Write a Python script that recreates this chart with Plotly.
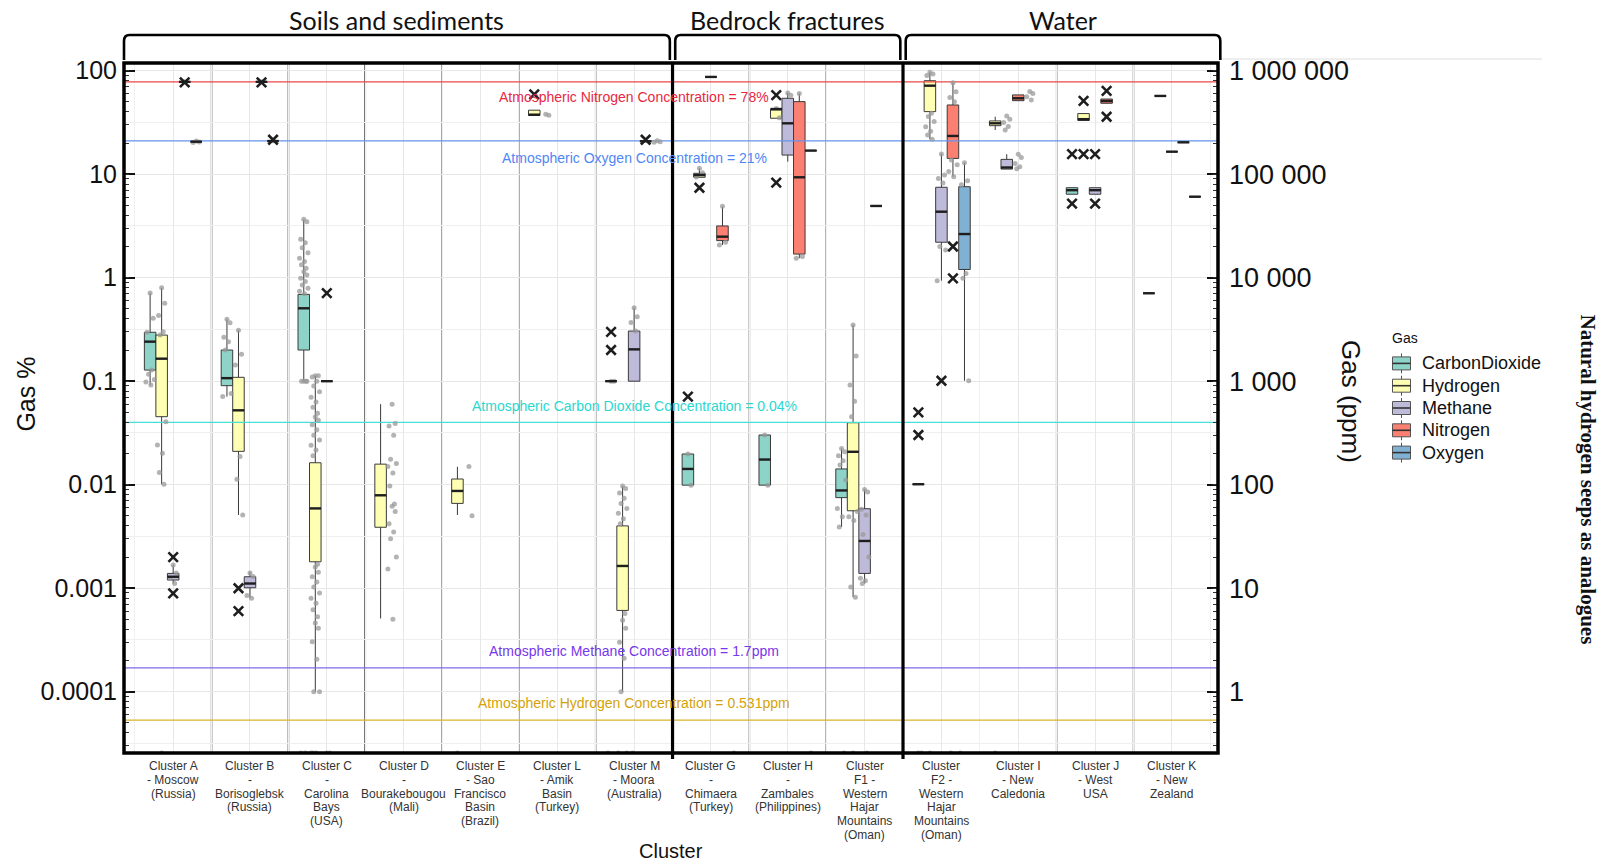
import math
import plotly.graph_objects as go

# ------------------------------------------------------------------ data
CLUSTER_LABELS = [
    "Cluster A\n- Moscow\n(Russia)",
    "Cluster B\n-\nBorisoglebsk\n(Russia)",
    "Cluster C\n-\nCarolina\nBays\n(USA)",
    "Cluster D\n-\nBourakebougou\n(Mali)",
    "Cluster E\n- Sao\nFrancisco\nBasin\n(Brazil)",
    "Cluster L\n- Amik\nBasin\n(Turkey)",
    "Cluster M\n- Moora\n(Australia)",
    "Cluster G\n-\nChimaera\n(Turkey)",
    "Cluster H\n-\nZambales\n(Philippines)",
    "Cluster\nF1 -\nWestern\nHajar\nMountains\n(Oman)",
    "Cluster\nF2 -\nWestern\nHajar\nMountains\n(Oman)",
    "Cluster I\n- New\nCaledonia",
    "Cluster J\n- West\nUSA",
    "Cluster K\n- New\nZealand",
]
SETTINGS = ["Soils and sediments", "Bedrock fractures", "Water"]
SETTING_SIZES = [7, 3, 4]

GASES = ["CarbonDioxide", "Hydrogen", "Methane", "Nitrogen", "Oxygen"]

# box statistics in gas % : (q1, median, q3, lower whisker, upper whisker)
co2_box = [
    (0.128, 0.241, 0.297, 0.092, 0.71), (0.0905, 0.107, 0.2, 0.071, 0.396),
    (0.2, 0.506, 0.69, 0.1, 3.66), None, None, None,
    (0.1, 0.1, 0.1, 0.1, 0.1), (0.0099, 0.0142, 0.0198, 0.0099, 0.0198),
    (0.0099, 0.0175, 0.0302, 0.0099, 0.0302), (0.0075, 0.0088, 0.0142, 0.0039, 0.0224),
    (0.0101, 0.0101, 0.0101, 0.0101, 0.0101), None,
    (6.4, 7.0, 7.4, 6.4, 7.4), (0.707, 0.707, 0.707, 0.707, 0.707),
]
h2_box = [
    (0.0454, 0.165, 0.279, 0.0101, 0.80), (0.021, 0.0523, 0.109, 0.0051, 0.31),
    (0.0018, 0.0059, 0.0163, 0.0001, 0.113), (0.00388, 0.0079, 0.0158, 0.00051, 0.06),
    (0.0066, 0.0087, 0.01135, 0.0051, 0.0149), (37.0, 37.5, 41.5, 37.0, 41.5),
    (0.00061, 0.00164, 0.004, 0.0001, 0.0097), (9.33, 9.8, 10.2, 9.33, 11.4),
    (34.7, 42.6, 42.6, 34.7, 42.6), (0.0056, 0.0208, 0.0397, 0.00082, 0.349),
    (40.2, 71.6, 80.0, 21.7, 96.4), (29.4, 31.0, 32.7, 26.7, 35.9),
    (33.0, 34.0, 38.5, 33.0, 38.5), (57.0, 57.0, 57.0, 57.0, 57.0),
]
ch4_box = [
    (0.0012, 0.00129, 0.00139, 0.00111, 0.00168), (0.00101, 0.00111, 0.00129, 0.0008, 0.00144),
    (0.1, 0.1, 0.1, 0.1, 0.1), None, None, None,
    (0.1, 0.203, 0.305, 0.1, 0.513), (87.0, 87.0, 87.0, 87.0, 87.0),
    (15.3, 31.0, 54.1, 13.2, 61.3), (0.00139, 0.00286, 0.00586, 0.00111, 0.009),
    (2.2, 4.34, 7.47, 0.935, 15.7), (11.2, 11.6, 13.9, 11.2, 15.6),
    (6.4, 7.0, 7.4, 6.4, 7.4), (16.5, 16.5, 16.5, 16.5, 16.5),
]
n2_box = [
    (78.0, 78.0, 78.0, 78.0, 78.0), (78.0, 78.0, 78.0, 78.0, 78.0),
    None, None, None, None, None,
    (2.28, 2.49, 3.16, 2.07, 4.85), (1.69, 9.33, 50.2, 1.54, 60.5),
    (4.93, 4.93, 4.93, 4.93, 4.93), (14.2, 23.4, 46.6, 9.46, 76.6),
    (51.3, 54.1, 58.3, 51.3, 58.3), (48.4, 50.9, 53.2, 48.4, 53.2),
    (20.3, 20.3, 20.3, 20.3, 20.3),
]
o2_box = [
    (20.6, 20.6, 20.6, 20.6, 20.6), (20.9, 20.9, 20.9, 20.9, 20.9),
    None, None, None, None,
    (20.8, 20.8, 20.8, 20.8, 20.8), None,
    (16.9, 16.9, 16.9, 16.9, 16.9), None,
    (1.2, 2.64, 7.57, 0.101, 12.9), None, None,
    (6.06, 6.06, 6.06, 6.06, 6.06),
]

# outliers beyond the whiskers (gas %)
co2_out = [[], [], [], [], [], [], [0.2, 0.3], [0.071], [], [], [0.05, 0.0302], [], [15.6, 5.2], []]
h2_out = [[], [0.001, 0.0006], [], [], [], [59.0], [], [7.4], [58.0, 8.3], [], [], [], [51.0, 15.6], []]
ch4_out = [[0.002, 0.00089], [], [0.71], [], [], [], [], [], [], [], [0.101], [], [15.6, 5.2], []]
n2_out = [[77.0], [77.0], [], [], [], [], [], [], [], [], [2.0, 0.986], [], [63.7, 35.9], []]
o2_out = [[], [21.5], [], [], [], [], [21.5], [], [], [], [], [], [], []]

# individual samples (gas %); 0 = below detection, drawn on the lower edge
co2_pts = [
    [0.71, 0.405, 0.297, 0.128, 0.117, 0.104, 0.098, 0.092],
    [0.396, 0.367, 0.266, 0.24, 0.2, 0.076, 0.071],
    [3.66, 3.47, 2.35, 2.18, 1.95, 1.74, 1.54, 1.43, 1.33, 1.23, 1.14, 1.06, 0.99,
     0.92, 0.85, 0.79, 0.74, 0.7, 0.1, 0.1, 0.1, 0.1, 0, 0],
    [], [0], [], [0.1, 0.1, 0], [0.0198, 0.0099], [0.0302, 0.0099],
    [0.0224, 0.0208, 0.019, 0.017, 0.0155, 0.0111, 0.0059, 0.0049, 0.0039, 0],
    [0, 0], [0], [], [],
]
h2_pts = [
    [0.8, 0.565, 0.43, 0.3, 0.28, 0.0406, 0.0242, 0.0201, 0.0131, 0.0101, 0],
    [0.31, 0.182, 0.143, 0.0187, 0.0113, 0.0051],
    [0.113, 0.113, 0.11, 0.1, 0.09, 0.079, 0.07, 0.063, 0.056, 0.049, 0.045, 0.042,
     0.038, 0.034, 0.03, 0.027, 0.024, 0.0216, 0.019, 0.0017, 0.0016, 0.00143,
     0.00129, 0.00115, 0.00103, 0.0009, 0.0008, 0.000714, 0.00062, 0.00053,
     0.00046, 0.00041, 0.000304, 0.000206, 0.0001, 0.0001, 0, 0, 0],
    [0.06, 0.039, 0.037, 0.03, 0.0176, 0.016, 0.015, 0.013, 0.0097, 0.0065, 0.0062,
     0.0055, 0.0042, 0.0035, 0.003, 0.002, 0.00153, 0.0005],
    [0.015, 0.005],
    [38.0, 37.0],
    [0.0097, 0.0092, 0.0083, 0.0074, 0.0066, 0.0059, 0.0053, 0.0047, 0.0042,
     0.00057, 0.00049, 0.00041, 0.0003, 0.00021, 0.0001, 0, 0],
    [11.4, 10.3, 9.4],
    [43.0, 35.0],
    [0.349, 0.175, 0.092, 0.064, 0.0454, 0.0055, 0.0049, 0.0045, 0.00103, 0.00082, 0],
    [96.4, 93.0, 90.0, 38.7, 36.0, 32.2, 28.7, 26.0, 23.9, 21.7, 0],
    [36.5, 33.9, 31.5, 28.8, 26.7],
    [], [],
]
ch4_pts = [
    [0.00168, 0.0014, 0.00125, 0.00111],
    [0.0014, 0.0013, 0.00085, 0.0008],
    [0, 0], [], [], [],
    [0.513, 0.42, 0.37, 0.305, 0],
    [], [61.0, 58.0],
    [0.009, 0.0085, 0.0058, 0.0051, 0.0033, 0.002, 0.00125, 0.00118, 0.00111, 0],
    [15.7, 9.8, 9.1, 8.2, 2.0, 1.85, 0.935],
    [15.6, 14.5, 12.7, 11.8, 11.3],
    [], [],
]
n2_pts = [
    [78.0], [78.0], [], [], [], [], [],
    [4.9, 2.2, 2.07],
    [60.0, 1.6, 1.54],
    [],
    [76.6, 62.7, 55.0, 50.0, 13.7, 12.3, 10.6, 9.46, 0],
    [63.0, 60.0, 56.0, 52.0],
    [], [],
]
o2_pts = [
    [20.9, 20.5, 20.2], [21.0], [], [], [], [],
    [21.0, 20.6, 20.3],
    [0], [0], [],
    [12.9, 8.65, 7.9, 1.1, 0.99, 0.101, 0],
    [], [], [],
]

# atmospheric reference concentrations (gas %)
ATM_GAS = ["Nitrogen", "Oxygen", "CarbonDioxide", "Methane", "Hydrogen"]
ATM_VALUE = [78.0, 21.0, 0.04, 0.00017, 0.0000531]
ATM_TEXT = [
    "Atmospheric Nitrogen Concentration = 78%",
    "Atmospheric Oxygen Concentration = 21%",
    "Atmospheric Carbon Dioxide Concentration = 0.04%",
    "Atmospheric Methane Concentration = 1.7ppm",
    "Atmospheric Hydrogen Concentration = 0.531ppm",
]

# ------------------------------------------------------------------ styling
FILL = {"CarbonDioxide": "#8DD3C7", "Hydrogen": "#FFFFB3", "Methane": "#BEBADA",
        "Nitrogen": "#FB8072", "Oxygen": "#80B1D3"}
ATM_LINE = {"Nitrogen": "#ea4848", "Oxygen": "#6293ee", "CarbonDioxide": "#46e0d4",
            "Methane": "#7d6ae8", "Hydrogen": "#d9b52c"}
ATM_FONT = {"Nitrogen": "#e8283f", "Oxygen": "#4f86f5", "CarbonDioxide": "#2bd7cf",
            "Methane": "#7638ea", "Hydrogen": "#d4a208"}
ATM_SHIFT = {"Nitrogen": -15, "Oxygen": -17, "CarbonDioxide": 16, "Methane": 17, "Hydrogen": 17}
# the two lowest reference lines are attached to the overlay axes so those axes get drawn
ATM_AXIS = {"Nitrogen": "y", "Oxygen": "y", "CarbonDioxide": "y", "Methane": "y3", "Hydrogen": "y2"}
ATM_LABEL_X = 6.0

SANS = "Liberation Sans, Arial, sans-serif"
W, H = 1605, 863
PLOT_L, PLOT_R, PLOT_T, PLOT_B = 124, 1218, 63, 753
X_RANGE = [-0.64, 13.60]
Y_RANGE = [-4.592, 2.074]          # log10 of gas %
SLOT = 0.15                        # dodge width of one gas inside a cluster
JITTER = [0.0, 0.04, -0.04, 0.02, -0.02, 0.055, -0.055, 0.01, -0.03, 0.03]


def px(xp):
    return (xp - PLOT_L) / (PLOT_R - PLOT_L)


def py(yp):
    return (PLOT_B - yp) / (PLOT_B - PLOT_T)


def xpaper(xd):
    return (xd - X_RANGE[0]) / (X_RANGE[1] - X_RANGE[0])


def text_at(xp, yp, text, size, family=SANS, angle=0, xanchor="center", color="#111"):
    return dict(x=px(xp), y=py(yp), xref="paper", yref="paper", text=text,
                textangle=angle, xanchor=xanchor, yanchor="middle", showarrow=False,
                font=dict(family=family, size=size, color=color))


boxes = [co2_box, h2_box, ch4_box, n2_box, o2_box]
outs = [co2_out, h2_out, ch4_out, n2_out, o2_out]
pts = [co2_pts, h2_pts, ch4_pts, n2_pts, o2_pts]
n_clusters = len(CLUSTER_LABELS)
floor_value = 10 ** Y_RANGE[0]

# boxes are dodged left-aligned among the gases present in a cluster
box_pos = [[None] * n_clusters for _ in GASES]
for ci in range(n_clusters):
    present = [g for g in range(len(GASES)) if boxes[g][ci] is not None]
    for k, g in enumerate(present):
        box_pos[g][ci] = ci + (k - 2) * SLOT

fig = go.Figure()

# atmospheric reference lines
for gas, val in zip(ATM_GAS, ATM_VALUE):
    fig.add_trace(go.Scatter(x=X_RANGE, y=[val, val], mode="lines", yaxis=ATM_AXIS[gas],
                             line=dict(color=ATM_LINE[gas], width=1.3),
                             hoverinfo="skip", showlegend=False))

# individual samples (jittered around the gas slot)
dx, dy = [], []
for g in range(len(GASES)):
    for ci in range(n_clusters):
        for j, v in enumerate(pts[g][ci]):
            dx.append(ci + (g - 2) * SLOT + JITTER[j % len(JITTER)])
            dy.append(v if v > 0 else floor_value)
fig.add_trace(go.Scatter(x=dx, y=dy, mode="markers",
                         marker=dict(size=5, color="#9a9a9a", opacity=0.75),
                         hoverinfo="skip", showlegend=False))

# boxplots
med_x, med_y = [], []
for g, gas in enumerate(GASES):
    xs, q1, md, q3, lo, hi = [], [], [], [], [], []
    for ci in range(n_clusters):
        b = boxes[g][ci]
        if b is None:
            continue
        xs.append(box_pos[g][ci])
        q1.append(b[0]); md.append(b[1]); q3.append(b[2]); lo.append(b[3]); hi.append(b[4])
        med_x += [box_pos[g][ci] - SLOT / 2, box_pos[g][ci] + SLOT / 2, None]
        med_y += [b[1], b[1], None]
    fig.add_trace(go.Box(x=xs, q1=q1, median=md, q3=q3, lowerfence=lo, upperfence=hi,
                         width=SLOT, fillcolor=FILL[gas], whiskerwidth=0,
                         line=dict(color="#3a3a3a", width=1), boxpoints=False,
                         hoverinfo="skip", showlegend=False, name=gas))
fig.add_trace(go.Scatter(x=med_x, y=med_y, mode="lines",
                         line=dict(color="#1e1e1e", width=2.4),
                         hoverinfo="skip", showlegend=False))

# outliers
ox, oy = [], []
for g in range(len(GASES)):
    for ci in range(n_clusters):
        for v in outs[g][ci]:
            ox.append(box_pos[g][ci])
            oy.append(v)
fig.add_trace(go.Scatter(x=ox, y=oy, mode="markers",
                         marker=dict(symbol="x-thin", size=9.5, color="#1e1e1e",
                                     line=dict(width=2.6, color="#1e1e1e")),
                         hoverinfo="skip", showlegend=False))

# ------------------------------------------------------------------ annotations
ann = []
for gas, val, txt in zip(ATM_GAS, ATM_VALUE, ATM_TEXT):
    ann.append(dict(x=ATM_LABEL_X, y=math.log10(val), xref="x", yref="y", text=txt,
                    showarrow=False, yshift=ATM_SHIFT[gas], xanchor="center", yanchor="middle",
                    font=dict(family=SANS, size=14, color=ATM_FONT[gas])))

for ci, lab in enumerate(CLUSTER_LABELS):
    for k, line in enumerate(lab.split("\n")):
        ann.append(dict(x=ci, y=0, xref="x", yref="paper", text=line, showarrow=False,
                        xanchor="center", yanchor="middle", yshift=-(13 + 13.8 * k),
                        font=dict(family=SANS, size=12, color="#333333")))

ann += [
    text_at(25.6, 394, "Gas %", 25, angle=-90),
    text_at(1351, 401, "Gas (ppm)", 26, angle=90),
    text_at(670.5, 851.5, "Cluster", 20),
    text_at(1588, 479.5, "<b>Natural hydrogen seeps as analogues</b>", 21,
            family="Liberation Serif, Times New Roman, serif", angle=90),
]

shapes = []

# vertical separators between clusters
sep_color = {0: "#777777", 1: "#555555", 2: "#111111", 3: "#888888", 4: "#888888",
             5: "#888888", 7: "#888888", 8: "#888888", 11: "#888888", 12: "#888888"}
setting_edges = []
acc = 0
for n in SETTING_SIZES[:-1]:
    acc += n
    setting_edges.append(acc - 1)
for b in range(n_clusters - 1):
    xb = b + 0.5
    if b in setting_edges:
        shapes.append(dict(type="line", xref="x", yref="paper", x0=xb, x1=xb, y0=py(759), y1=1,
                           line=dict(color="black", width=3.2), layer="above"))
    elif b in sep_color:
        shapes.append(dict(type="line", xref="x", yref="paper", x0=xb, x1=xb, y0=0, y1=1,
                           line=dict(color=sep_color[b], width=1.6), layer="below"))

# panel frame
shapes.append(dict(type="rect", xref="paper", yref="paper", x0=0, x1=1, y0=0, y1=1,
                   line=dict(color="black", width=3.5), layer="above"))
# faint rule extending from the top of the secondary axis
shapes.append(dict(type="line", xref="paper", yref="paper", x0=px(1219), x1=px(1542),
                   y0=py(59), y1=py(59), line=dict(color="#dedede", width=1)))

# setting brackets over the panel
yt, yb = py(35), py(60)
rx, ry = 0.005, 6 / (PLOT_B - PLOT_T)
start = 0
for si, (name, n) in enumerate(zip(SETTINGS, SETTING_SIZES)):
    lo_edge = X_RANGE[0] if si == 0 else start - 0.5 + 0.035
    hi_edge = start + n - 0.5 - 0.035 if si < len(SETTINGS) - 1 else X_RANGE[1] + 0.03
    a, b2 = xpaper(lo_edge), xpaper(hi_edge)
    path = (f"M {a},{yb} L {a},{yt - ry} Q {a},{yt} {a + rx},{yt} "
            f"L {b2 - rx},{yt} Q {b2},{yt} {b2},{yt - ry} L {b2},{yb}")
    shapes.append(dict(type="path", xref="paper", yref="paper", path=path,
                       line=dict(color="black", width=2.6)))
    ann.append(dict(x=(a + b2) / 2, y=py(20.5), xref="paper", yref="paper", text=name,
                    xanchor="center", yanchor="middle", showarrow=False,
                    font=dict(family="Lato, Liberation Sans, sans-serif", size=25, color="#111")))
    start += n

# legend (boxplot keys)
ann.append(text_at(1390, 338, "Gas", 14, xanchor="left"))
for k, gas in enumerate(GASES):
    cy = 363.4 + 22.3 * k
    x0, x1 = 1392.5, 1410.5
    xm = (x0 + x1) / 2
    shapes.append(dict(type="line", xref="paper", yref="paper", x0=px(xm), x1=px(xm),
                       y0=py(cy - 10), y1=py(cy + 10), line=dict(color="#555", width=1)))
    shapes.append(dict(type="rect", xref="paper", yref="paper", x0=px(x0), x1=px(x1),
                       y0=py(cy - 6.5), y1=py(cy + 6.5), fillcolor=FILL[gas],
                       line=dict(color="#555", width=1)))
    shapes.append(dict(type="line", xref="paper", yref="paper", x0=px(x0), x1=px(x1),
                       y0=py(cy), y1=py(cy), line=dict(color="#333", width=1.6)))
    ann.append(text_at(1420, cy, gas, 18, xanchor="left"))

# ------------------------------------------------------------------ axes
tick_vals = [10.0 ** e for e in range(-4, 3)]
tick_pct = [f"{v:g}" for v in tick_vals]
tick_ppm = [f"{int(round(v * 1e4)):,}".replace(",", " ") for v in tick_vals]

fig.update_layout(
    width=W, height=H, autosize=False,
    margin=dict(l=PLOT_L, r=W - PLOT_R, t=PLOT_T, b=H - PLOT_B),
    paper_bgcolor="white", plot_bgcolor="white",
    showlegend=False, boxmode="overlay",
    font=dict(family=SANS, color="#111"),
    xaxis=dict(range=X_RANGE, showticklabels=False, ticks="", zeroline=False,
               tickmode="linear", tick0=0, dtick=1,
               showgrid=True, gridcolor="#e7e7e7", gridwidth=1.2,
               minor=dict(tick0=0.5, dtick=1, showgrid=True, gridcolor="#f0f0f0", gridwidth=1)),
    yaxis=dict(type="log", range=Y_RANGE, tickmode="array", tickvals=tick_vals, ticktext=tick_pct,
               ticks="inside", ticklen=11, tickwidth=1.5, tickcolor="#111", mirror="ticks",
               showline=False, zeroline=False, showgrid=True, gridcolor="#e7e7e7", gridwidth=1.3,
               minor=dict(tickmode="linear", tick0=0, dtick=0.5, showgrid=True,
                          gridcolor="#efefef", gridwidth=1, ticks=""),
               tickfont=dict(family=SANS, size=25, color="#111"), ticklabelstandoff=6),
    yaxis2=dict(type="log", range=Y_RANGE, overlaying="y", anchor="x", side="right",
                tickmode="array", tickvals=tick_vals, ticktext=tick_ppm, ticks="",
                showgrid=False, zeroline=False, showline=False,
                tickfont=dict(family=SANS, size=27, color="#111"), ticklabelstandoff=10),
    yaxis3=dict(type="log", range=Y_RANGE, overlaying="y", anchor="x", side="left",
                tickmode="linear", tick0=0, dtick="D1", ticks="inside", ticklen=5,
                tickwidth=1, tickcolor="#333", mirror="ticks", showticklabels=False,
                showgrid=False, zeroline=False, showline=False),
    annotations=ann,
    shapes=shapes,
)

fig.write_html("out.html")
